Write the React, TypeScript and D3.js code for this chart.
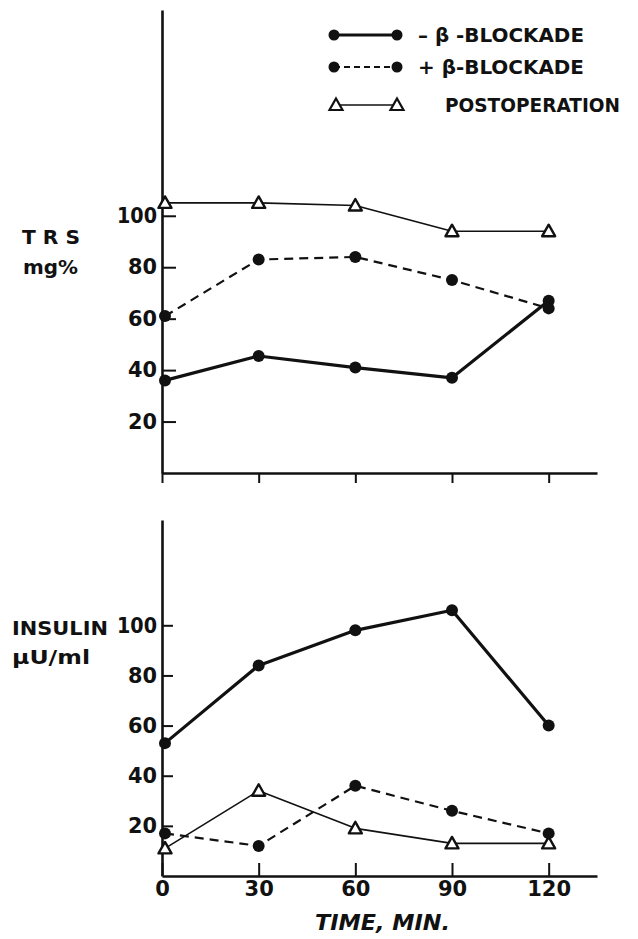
import React, { useEffect, useRef } from "react";
import * as d3 from "d3";

// time points (min)
const times = [0, 30, 60, 90, 120];

// TRS, mg%
const trsNoBlock = [36, 45.5, 41, 37, 67];
const trsBlock = [61, 83, 84, 75, 64];
const trsPostop = [105, 105, 104, 94, 94];

// insulin, uU/ml
const insNoBlock = [53, 84, 98, 106, 60];
const insBlock = [17, 12, 36, 26, 17];
const insPostop = [11, 34, 19, 13, 13];

const yTicks = [20, 40, 60, 80, 100];
const xTicks = [0, 30, 60, 90, 120];

const legendItems = [
  { key: "noBlock", label: "– \u03b2 -BLOCKADE", len: 166 },
  { key: "block", label: "+ \u03b2-BLOCKADE", len: 166 },
  { key: "postop", label: "POSTOPERATION", len: 175 },
];

const FONT = "'DejaVu Sans', sans-serif";
const INK = "#111";

const App = () => {
  const svgRef = useRef<SVGSVGElement>(null);

  useEffect(() => {
    const svg = d3.select(svgRef.current);
    svg.selectAll("*").remove();

    const x = d3.scaleLinear().domain([0, 135]).range([162, 597]);

    const styles = {
      noBlock: { width: 3.2, dash: null as string | null, marker: "dot" },
      block: { width: 2.2, dash: "9,6", marker: "dot" },
      postop: { width: 1.6, dash: null as string | null, marker: "tri" },
    };

    const triPath = (cx: number, cy: number) =>
      `M${cx},${cy - 6.5}L${cx + 6.5},${cy + 5}L${cx - 6.5},${cy + 5}Z`;

    const drawPanel = (
      y: d3.ScaleLinear<number, number>,
      series: { key: string; values: number[] }[],
      xTickSize: number,
      yTickSize: number,
      showXLabels: boolean
    ) => {
      const g = svg.append("g");
      const y0 = y(0);

      // axes
      const yAxis = g
        .append("g")
        .attr("transform", `translate(${x(0)},0)`)
        .call(
          d3
            .axisLeft(y)
            .tickValues(yTicks)
            .tickSizeInner(-yTickSize)
            .tickSizeOuter(0)
            .tickPadding(5)
        );
      const xAxis = g
        .append("g")
        .attr("transform", `translate(0,${y0})`)
        .call(
          d3
            .axisBottom(x)
            .tickValues(xTicks)
            .tickSizeInner(xTickSize)
            .tickSizeOuter(0)
            .tickPadding(5)
            .tickFormat((d) => (showXLabels ? String(d) : ""))
        );

      [yAxis, xAxis].forEach((a) => {
        a.select(".domain").attr("stroke", INK).attr("stroke-width", 2.6);
        a.selectAll(".tick line").attr("stroke", INK).attr("stroke-width", 2);
        a.selectAll(".tick text")
          .attr("fill", INK)
          .style("font-family", FONT)
          .style("font-weight", "bold")
          .style("font-size", "21px");
      });
      yAxis.selectAll(".tick text").attr("textLength", (d: any) => (d >= 100 ? 40 : 29))
        .attr("lengthAdjust", "spacingAndGlyphs");

      // lines and markers
      series.forEach((s) => {
        const st = (styles as any)[s.key];
        const pts = s.values.map((v, i) => [x(times[i]) + (i === 0 ? 3 : 0), y(v)] as [number, number]);
        g.append("path")
          .attr("d", d3.line()(pts))
          .attr("fill", "none")
          .attr("stroke", INK)
          .attr("stroke-width", st.width)
          .attr("stroke-dasharray", st.dash)
          .attr("stroke-linejoin", "round");
        if (st.marker === "dot") {
          g.selectAll(null)
            .data(pts)
            .join("circle")
            .attr("cx", (d) => d[0])
            .attr("cy", (d) => d[1])
            .attr("r", 6)
            .attr("fill", INK);
        } else {
          g.selectAll(null)
            .data(pts)
            .join("path")
            .attr("d", (d) => triPath(d[0], d[1]))
            .attr("fill", "white")
            .attr("stroke", INK)
            .attr("stroke-width", 2.4)
            .attr("stroke-linejoin", "round");
        }
      });
    };

    // top panel: TRS
    const yTop = d3.scaleLinear().domain([0, 180]).range([473, 10]);
    drawPanel(
      yTop,
      [
        { key: "postop", values: trsPostop },
        { key: "block", values: trsBlock },
        { key: "noBlock", values: trsNoBlock },
      ],
      10,
      14,
      false
    );

    // bottom panel: insulin
    const yBot = d3.scaleLinear().domain([0, 142]).range([876, 520]);
    drawPanel(
      yBot,
      [
        { key: "postop", values: insPostop },
        { key: "block", values: insBlock },
        { key: "noBlock", values: insNoBlock },
      ],
      -13,
      11,
      true
    );

    const label = (txt: string, tx: number, ty: number, len: number, size = 20) =>
      svg
        .append("text")
        .attr("x", tx)
        .attr("y", ty)
        .attr("dy", "0.36em")
        .attr("textLength", len)
        .attr("lengthAdjust", "spacingAndGlyphs")
        .attr("fill", INK)
        .style("font-family", FONT)
        .style("font-weight", "bold")
        .style("font-size", `${size}px`)
        .text(txt);

    // axis titles
    label("T R S", 22, 237, 58);
    label("mg%", 23, 267, 55);
    label("INSULIN", 12, 628, 96);
    label("\u03bcU/ml", 12, 657, 78);
    label("TIME, MIN.", 315, 922, 135, 21).style("font-style", "italic");

    // legend
    const legend = svg
      .selectAll(".legend")
      .data(legendItems)
      .join("g")
      .attr("class", "legend")
      .attr("transform", (d, i) => `translate(0, ${[35, 67, 105][i]})`);

    legend.each(function (d) {
      const lg = d3.select(this);
      const st = (styles as any)[d.key];
      lg.append("line")
        .attr("x1", 334)
        .attr("x2", 397)
        .attr("stroke", INK)
        .attr("stroke-width", d.key === "postop" ? 1.6 : st.width)
        .attr("stroke-dasharray", d.key === "block" ? "6,4" : null);
      if (st.marker === "dot") {
        lg.selectAll("circle")
          .data([334, 397])
          .join("circle")
          .attr("cx", (v) => v)
          .attr("r", 5.5)
          .attr("fill", INK);
      } else {
        lg.selectAll("path")
          .data([336, 397])
          .join("path")
          .attr("d", (v) => triPath(v, 0))
          .attr("fill", "white")
          .attr("stroke", INK)
          .attr("stroke-width", 2.2);
      }
      lg.append("text")
        .attr("x", d.key === "postop" ? 445 : 418)
        .attr("dy", "0.36em")
        .attr("textLength", d.len)
        .attr("lengthAdjust", "spacingAndGlyphs")
        .attr("fill", INK)
        .style("font-family", FONT)
        .style("font-weight", "bold")
        .style("font-size", "19px")
        .text(d.label);
    });
  }, []);

  return (
    <svg
      ref={svgRef}
      width={638}
      height={939}
      style={{ position: "absolute", left: 0, top: 0, background: "white" }}
    ></svg>
  );
};

export default App;
